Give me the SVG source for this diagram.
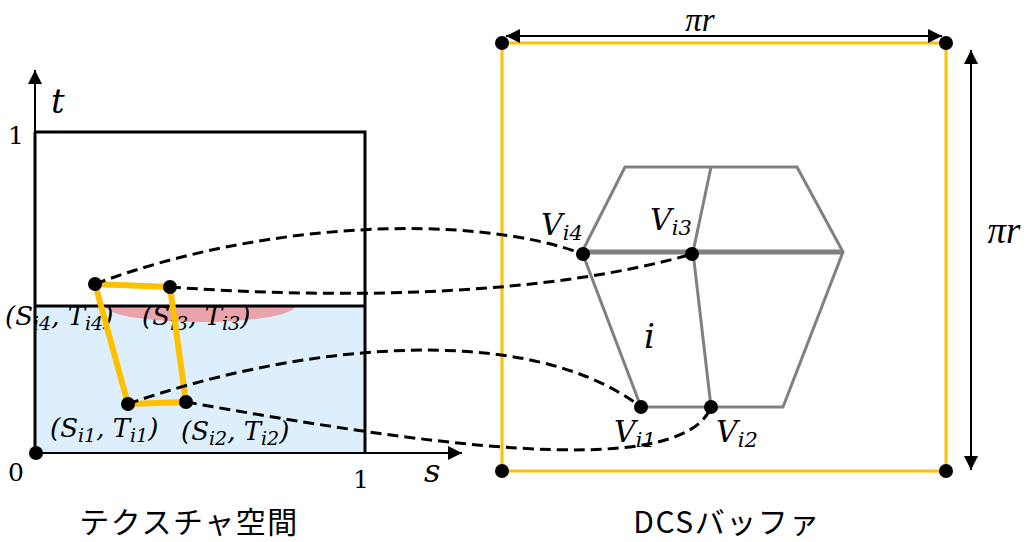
<svg xmlns="http://www.w3.org/2000/svg" width="1033" height="542" viewBox="0 0 1033 542">
<style>
.m{font-family:"DejaVu Serif","Liberation Serif",serif;font-style:italic;fill:#000}
.p{font-family:"Liberation Serif","DejaVu Serif",serif;font-style:italic;fill:#000}
.n{font-family:"DejaVu Serif","Liberation Serif",serif;fill:#000}
.jp{font-family:"Noto Sans CJK JP","Noto Sans",sans-serif;fill:#000;font-size:30px;letter-spacing:1.5px}
.ax{stroke:#000;stroke-width:2;fill:none}
.dash{stroke:#000;stroke-width:3;fill:none;stroke-dasharray:11 6}
.gray{stroke:#808080;stroke-width:3;fill:none;stroke-linecap:round}
.yl{stroke:#FFC000;fill:none}
.dot{fill:#000}
</style>
<defs>
<marker id="ah" viewBox="0 0 10 10" refX="10" refY="5" markerWidth="8" markerHeight="7" markerUnits="strokeWidth" orient="auto-start-reverse">
<path d="M0,0 L10,5 L0,10 z" fill="#000"/>
</marker>
</defs>
<rect width="1033" height="542" fill="#fff"/>

<g id="texture-space">
<rect x="35" y="306" width="330" height="147" fill="#DDEFFC"/>
<path d="M105,306 A95,16 0 0 0 295,306 z" fill="#E9A3AB"/>
<g class="m" font-size="26">
<text x="5" y="325">(S<tspan font-size="19" dy="5">i4</tspan><tspan dy="-5">, T</tspan><tspan font-size="19" dy="5">i4</tspan><tspan dy="-5">)</tspan></text>
<text x="142" y="325">(S<tspan font-size="19" dy="5">i3</tspan><tspan dy="-5">, T</tspan><tspan font-size="19" dy="5">i3</tspan><tspan dy="-5">)</tspan></text>
<text x="50" y="437">(S<tspan font-size="19" dy="5">i1</tspan><tspan dy="-5">, T</tspan><tspan font-size="19" dy="5">i1</tspan><tspan dy="-5">)</tspan></text>
<text x="181" y="440">(S<tspan font-size="19" dy="5">i2</tspan><tspan dy="-5">, T</tspan><tspan font-size="19" dy="5">i2</tspan><tspan dy="-5">)</tspan></text>
</g>
<path d="M35,132 H365 V453 M35,306 H365" stroke="#000" stroke-width="3" fill="none"/>
<line x1="35" y1="453" x2="35" y2="70" class="ax" marker-end="url(#ah)"/>
<line x1="35" y1="453" x2="462" y2="453" class="ax" marker-end="url(#ah)"/>
<path d="M35,132 V453" stroke="#000" stroke-width="3"/>
<text x="51" y="113" class="m" font-size="34">t</text>
<text x="424" y="482" class="m" font-size="32">s</text>
<text x="8" y="144" class="n" font-size="25">1</text>
<text x="8" y="481" class="n" font-size="25">0</text>
<text x="353" y="488" class="n" font-size="25">1</text>
<polygon points="95,284 170,287 186,402 128,404" class="yl" stroke-width="6" stroke-linejoin="round"/>
<circle cx="36" cy="453" r="7" class="dot"/>
<circle cx="95" cy="284" r="7" class="dot"/>
<circle cx="170" cy="287" r="7" class="dot"/>
<circle cx="128" cy="404" r="7" class="dot"/>
<circle cx="186" cy="402" r="7" class="dot"/>
<text x="189" y="533" text-anchor="middle" class="jp">テクスチャ空間</text>
</g>

<g id="dcs-buffer">
<rect x="502" y="43" width="444" height="428" class="yl" stroke-width="3"/>
<line x1="506" y1="36" x2="942" y2="36" class="ax" marker-start="url(#ah)" marker-end="url(#ah)"/>
<line x1="971" y1="50" x2="971" y2="470" class="ax" marker-start="url(#ah)" marker-end="url(#ah)"/>
<text x="700" y="31" text-anchor="middle" class="p" font-size="33">πr</text>
<text x="1004" y="243" text-anchor="middle" class="p" font-size="37">πr</text>
<circle cx="502" cy="43" r="7" class="dot"/>
<circle cx="946" cy="43" r="7" class="dot"/>
<circle cx="502" cy="471" r="7" class="dot"/>
<circle cx="946" cy="471" r="7" class="dot"/>
<g id="mesh">
<path d="M625,167 H797 L843,252 M625,167 L582,252 M711,167 L693,252 M582,252 L641,407 H783 L843,252 M693,252 L711,407" class="gray"/>
<line x1="582" y1="252" x2="843" y2="252" stroke="#808080" stroke-width="5"/>
</g>
<text x="644" y="348" class="m" font-size="34">i</text>
<g class="m" font-size="30">
<text x="541" y="235">V<tspan font-size="21" dy="5">i4</tspan></text>
<text x="650" y="230">V<tspan font-size="21" dy="5">i3</tspan></text>
<text x="614" y="442">V<tspan font-size="21" dy="5">i1</tspan></text>
<text x="716" y="442">V<tspan font-size="21" dy="5">i2</tspan></text>
</g>
<text x="727" y="533" text-anchor="middle" class="jp">DCSバッファ</text>
</g>

<g id="connectors">
<path d="M95,284 C260,222 470,212 583,254" class="dash"/>
<path d="M170,287 C350,300 550,295 692,254" class="dash"/>
<path d="M128,404 C280,350 520,315 641,407" class="dash"/>
<path d="M186,402 C400,440 680,485 711,407" class="dash"/>
</g>
<g id="vertex-dots">
<circle cx="583" cy="254" r="7" class="dot"/>
<circle cx="692" cy="254" r="7" class="dot"/>
<circle cx="641" cy="407" r="7" class="dot"/>
<circle cx="711" cy="407" r="7" class="dot"/>
</g>
</svg>
